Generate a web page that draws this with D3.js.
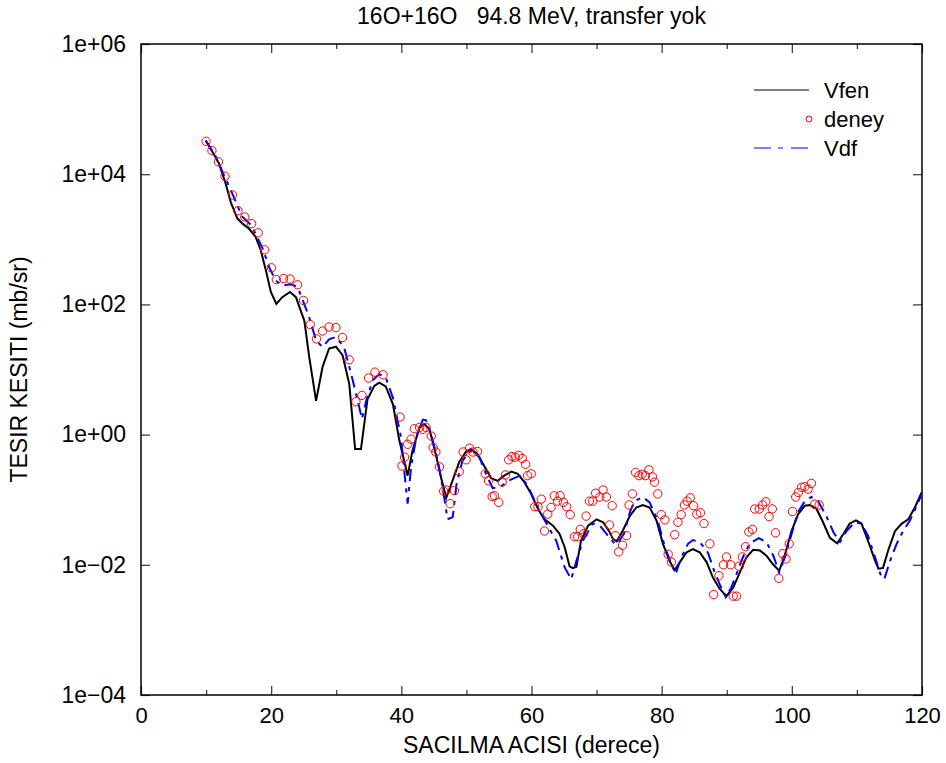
<!DOCTYPE html>
<html>
<head>
<meta charset="utf-8">
<script src="https://cdn.jsdelivr.net/npm/d3@7"></script>
<style>
  body { margin: 0; background: #fff; }
  text { font-family: "Liberation Sans", Arial, sans-serif; fill: #000; }
</style>
</head>
<body>
<div id="chart"></div>
<script>
// deney (experiment): angle in degrees, cross section in mb/sr
const expAngle = [10.0, 10.9, 11.9, 12.9, 14.05, 14.9, 15.95, 17.0, 18.0, 19.0, 20.05, 20.8, 21.9, 22.9, 24.05, 24.97,
  26.0, 26.97, 27.9, 28.9, 29.95, 30.97, 32.0, 33.03, 33.95, 34.97, 35.95, 37.2, 39.8, 40.1, 40.5, 40.97,
  41.5, 42.0, 42.8, 43.3, 43.8, 44.6, 44.9, 45.3, 45.85, 46.5, 46.9, 47.5, 48.15, 48.9, 49.5, 49.95,
  50.5, 51.0, 51.7, 52.9, 53.4, 53.95, 54.3, 54.97, 55.5, 56.0, 56.5, 57.0, 57.5, 58.05, 58.6, 59.1,
  59.4, 59.95, 60.5, 61.0, 61.5, 62.0, 62.5, 63.0, 63.5, 64.0, 64.4, 64.9, 65.4, 65.95, 66.6, 67.1,
  67.5, 68.0, 68.4, 68.9, 69.4, 69.85, 70.5, 71.0, 71.5, 72.0, 72.4, 72.9, 73.4, 74.0, 74.6, 75.0,
  75.5, 76.0, 76.5, 77.0, 77.5, 78.05, 78.6, 78.9, 79.4, 79.95, 80.5, 81.0, 81.5, 82.0, 82.5, 83.0,
  83.5, 83.9, 84.4, 84.9, 85.4, 85.95, 86.5, 87.4, 88.0, 88.8, 89.5, 89.95, 90.6, 91.0, 91.5, 91.9,
  92.4, 92.9, 93.4, 93.95, 94.3, 95.0, 95.5, 96.0, 96.5, 97.0, 97.5, 98.0, 98.6, 99.1, 99.6, 100.1,
  100.6, 101.0, 101.5, 102.0, 102.5, 103.0, 103.5, 104.2];
const expSigma = [3.2e4, 2.3e4, 1.55e4, 9.3e3, 4.8e3, 2.75e3, 2.2e3, 1.74e3, 1.26e3, 690, 365, 240, 250, 245, 200, 115,
  49, 29.5, 39, 45, 44, 31, 14.1, 3.2, 4.0, 7.4, 9.1, 8.3, 1.86, 0.33, 0.45, 0.71,
  0.85, 1.23, 1.29, 1.2, 1.29, 0.95, 0.63, 0.54, 0.32, 0.135, 0.141, 0.087, 0.138, 0.27, 0.54, 0.41,
  0.62, 0.54, 0.55, 0.25, 0.195, 0.112, 0.115, 0.091, 0.186, 0.24, 0.41, 0.46, 0.45, 0.48, 0.43, 0.35,
  0.234, 0.25, 0.078, 0.078, 0.102, 0.033, 0.06, 0.076, 0.115, 0.095, 0.115, 0.091, 0.078, 0.059, 0.027, 0.027,
  0.035, 0.03, 0.056, 0.095, 0.095, 0.126, 0.11, 0.141, 0.11, 0.041, 0.081, 0.028, 0.0158, 0.02, 0.028, 0.083,
  0.123, 0.263, 0.234, 0.245, 0.234, 0.288, 0.224, 0.186, 0.123, 0.059, 0.049, 0.0145, 0.011, 0.029, 0.045, 0.059,
  0.083, 0.095, 0.107, 0.081, 0.06, 0.063, 0.043, 0.021, 0.0035, 0.0068, 0.01, 0.0132, 0.01, 0.0033, 0.0033, 0.0095,
  0.0132, 0.019, 0.032, 0.035, 0.072, 0.072, 0.083, 0.093, 0.055, 0.072, 0.031, 0.0062, 0.0148, 0.0123, 0.021, 0.066,
  0.11, 0.129, 0.155, 0.158, 0.145, 0.178, 0.085, 0.083];

// Vfen calculation
const fenAngle = [9.95, 11.1, 12.0, 13.0, 13.8, 14.8, 15.6, 16.6, 17.6, 18.4, 19.2, 19.95, 20.8, 21.7, 22.9, 23.8,
  25.1, 25.85, 26.9, 27.9, 28.9, 29.95, 30.97, 32.0, 32.9, 33.8, 34.8, 35.85, 36.6, 37.6, 38.7, 39.7,
  40.97, 41.7, 42.8, 43.5, 44.3, 45.3, 46.1, 46.9, 47.9, 48.9, 49.95, 50.7, 51.7, 52.8, 53.8, 54.8,
  55.8, 56.9, 57.9, 58.9, 59.95, 61.0, 62.0, 63.3, 64.3, 65.1, 65.85, 66.35, 66.9, 67.6, 68.7, 70.0,
  71.0, 72.0, 72.5, 73.1, 74.0, 75.1, 76.1, 77.1, 78.15, 79.2, 80.2, 81.2, 82.0, 82.8, 83.8, 84.8,
  85.85, 86.9, 87.9, 88.9, 89.95, 91.0, 92.0, 93.0, 94.05, 95.1, 96.1, 97.1, 98.05, 98.9, 99.95, 100.97,
  102.0, 102.8, 103.8, 104.8, 105.85, 106.97, 107.9, 108.9, 109.85, 110.7, 111.7, 112.8, 113.3, 114.0, 114.8, 115.85,
  116.9, 117.9, 118.9, 119.95];
const fenSigma = [3.3e4, 2.1e4, 1.45e4, 7.2e3, 3.7e3, 2.1e3, 1.74e3, 1.45e3, 1.1e3, 680, 330, 155, 102, 129, 155, 129,
  56, 15.5, 3.3, 11, 21, 22.4, 16.6, 6.0, 0.6, 0.6, 3.5, 5.6, 6.3, 5.5, 2.95, 0.81,
  0.234, 0.56, 1.29, 1.45, 1.23, 0.5, 0.22, 0.107, 0.2, 0.38, 0.55, 0.6, 0.5, 0.32, 0.214, 0.195,
  0.234, 0.27, 0.25, 0.186, 0.123, 0.072, 0.05, 0.04, 0.03, 0.0186, 0.0095, 0.0089, 0.0093, 0.0234, 0.04, 0.05,
  0.045, 0.032, 0.025, 0.023, 0.033, 0.056, 0.076, 0.083, 0.076, 0.048, 0.021, 0.0115, 0.0083, 0.011, 0.0155, 0.0174,
  0.0155, 0.011, 0.0063, 0.0043, 0.0033, 0.0045, 0.0076, 0.0129, 0.017, 0.0166, 0.0138, 0.0102, 0.0081, 0.0138, 0.033, 0.06,
  0.081, 0.083, 0.072, 0.045, 0.026, 0.0214, 0.0295, 0.043, 0.048, 0.043, 0.0234, 0.0115, 0.0087, 0.0089, 0.0166, 0.033,
  0.043, 0.05, 0.076, 0.129];

// Vdf calculation
const vdfAngle = [9.95, 11.5, 13.0, 14.05, 14.8, 15.6, 16.9, 17.6, 18.7, 19.7, 20.7, 21.7, 23.0, 24.05, 25.1, 25.85,
  26.9, 27.9, 28.9, 29.95, 31.2, 32.3, 33.3, 33.95, 34.6, 35.6, 36.6, 37.6, 38.7, 39.95, 40.6, 40.97,
  41.5, 42.3, 43.3, 43.8, 44.7, 45.6, 46.35, 47.1, 47.9, 48.5, 49.4, 50.7, 52.0, 53.0, 54.05, 55.3,
  56.4, 58.2, 59.4, 60.5, 61.5, 62.8, 63.8, 65.1, 66.1, 66.9, 67.9, 69.4, 70.5, 71.5, 72.8, 73.2,
  74.2, 75.2, 75.85, 77.1, 78.15, 79.4, 80.5, 81.5, 82.15, 83.0, 84.05, 84.8, 85.85, 87.1, 88.15, 89.0,
  89.85, 90.7, 91.5, 92.5, 93.5, 94.9, 96.1, 97.2, 98.05, 98.9, 99.95, 100.97, 102.0, 103.0, 104.05, 105.3,
  106.4, 107.4, 108.4, 109.7, 110.7, 111.7, 112.8, 113.6, 114.2, 115.1, 116.1, 117.1, 118.15, 119.2, 119.95];
const vdfSigma = [3.3e4, 1.86e4, 8.5e3, 5.0e3, 3.3e3, 2.2e3, 1.66e3, 1.23e3, 720, 370, 234, 195, 204, 186, 100, 63,
  28, 22, 29, 31.6, 22, 8.5, 3.3, 1.74, 3.3, 6.8, 8.5, 7.6, 3.7, 0.91, 0.195, 0.087,
  0.32, 0.91, 1.7, 1.66, 0.91, 0.4, 0.155, 0.05, 0.054, 0.18, 0.4, 0.575, 0.45, 0.25, 0.15, 0.16,
  0.195, 0.234, 0.166, 0.095, 0.06, 0.035, 0.0234, 0.0091, 0.006, 0.0115, 0.0234, 0.043, 0.04, 0.03, 0.021, 0.021,
  0.03, 0.068, 0.095, 0.11, 0.091, 0.048, 0.0186, 0.0102, 0.0072, 0.0129, 0.021, 0.024, 0.0224, 0.0155, 0.0076, 0.0048,
  0.0032, 0.0045, 0.0072, 0.0132, 0.021, 0.0257, 0.0224, 0.0135, 0.0076, 0.0129, 0.0295, 0.065, 0.095, 0.11, 0.095, 0.056,
  0.0316, 0.0224, 0.033, 0.045, 0.043, 0.028, 0.0129, 0.0072, 0.006, 0.0115, 0.021, 0.033, 0.048, 0.081, 0.123];

const xMajorTicks = [0, 20, 40, 60, 80, 100, 120];
const xMinorTicks = [10, 30, 50, 70, 90, 110];
const yTicks = [1e-4, 1e-2, 1e0, 1e2, 1e4, 1e6];

const size = { width: 946, height: 763, margin: { left: 141, right: 24, top: 44, bottom: 68 } };
const { width, height, margin } = size;
const w = width - margin.left - margin.right;
const h = height - margin.top - margin.bottom;

const svg = d3.select('#chart').append('svg')
  .attr('width', width)
  .attr('height', height);

const g = svg.append('g').attr('transform', `translate(${margin.left},${margin.top})`);

const x = d3.scaleLinear().domain([0, 120]).range([0, w]);
const y = d3.scaleLog().domain([1e-4, 1e6]).range([h, 0]);

g.append('clipPath').attr('id', 'clip')
  .append('rect').attr('width', w).attr('height', h);

const fmtExp = (d) => {
  const e = Math.round(Math.log10(d));
  return `1e${e < 0 ? '\u2212' : '+'}${String(Math.abs(e)).padStart(2, '0')}`;
};

const styleAxis = (fontSize) => (sel) => {
  sel.select('.domain').remove();
  sel.selectAll('line').attr('stroke', '#333').attr('stroke-width', 1.2);
  sel.selectAll('text').style('font-size', fontSize).attr('fill', '#000');
};

// bottom axis: labelled major ticks + minor ticks, pointing inward
g.append('g').attr('transform', `translate(0,${h})`)
  .call(d3.axisBottom(x).tickValues(xMajorTicks).tickSize(-9).tickPadding(12).tickFormat(d3.format('d')))
  .call(styleAxis('22px'));
g.append('g').attr('transform', `translate(0,${h})`)
  .call(d3.axisBottom(x).tickValues(xMinorTicks).tickSize(-5).tickFormat(''))
  .call(styleAxis('22px'));
g.append('g')
  .call(d3.axisTop(x).tickValues(xMajorTicks).tickSize(-9).tickFormat(''))
  .call(styleAxis('22px'));
g.append('g')
  .call(d3.axisTop(x).tickValues(xMinorTicks).tickSize(-5).tickFormat(''))
  .call(styleAxis('22px'));

g.append('g')
  .call(d3.axisLeft(y).tickValues(yTicks).tickSize(-9).tickPadding(15).tickFormat(fmtExp))
  .call(styleAxis('23px'));
g.append('g').attr('transform', `translate(${w},0)`)
  .call(d3.axisRight(y).tickValues(yTicks).tickSize(-9).tickFormat(''))
  .call(styleAxis('23px'));

g.append('rect')
  .attr('width', w).attr('height', h)
  .attr('fill', 'none').attr('stroke', '#000').attr('stroke-width', 1.5);

const line = d3.line()
  .x((d) => x(d[0]))
  .y((d) => y(d[1]));

const plot = g.append('g').attr('clip-path', 'url(#clip)');

plot.append('path')
  .datum(d3.zip(fenAngle, fenSigma))
  .attr('d', line)
  .attr('fill', 'none')
  .attr('stroke', '#000')
  .attr('stroke-width', 2);

plot.append('path')
  .datum(d3.zip(vdfAngle, vdfSigma))
  .attr('d', line)
  .attr('fill', 'none')
  .attr('stroke', '#0000ff')
  .attr('stroke-width', 2)
  .attr('stroke-dasharray', '12,6,4,6');

plot.selectAll('circle.exp')
  .data(d3.zip(expAngle, expSigma))
  .enter()
  .append('circle')
  .attr('class', 'exp')
  .attr('cx', (d) => x(d[0]))
  .attr('cy', (d) => y(d[1]))
  .attr('r', 4.2)
  .attr('fill', 'none')
  .attr('stroke', '#ff0000')
  .attr('stroke-width', 1);

// legend
const legend = svg.append('g');
const legendRows = [
  { label: 'Vfen', y: 90 },
  { label: 'deney', y: 119 },
  { label: 'Vdf', y: 148 },
];
legend.append('line').attr('x1', 754).attr('x2', 809).attr('y1', 90).attr('y2', 90)
  .attr('stroke', '#000').attr('stroke-width', 1);
legend.append('circle').attr('cx', 809).attr('cy', 119).attr('r', 3)
  .attr('fill', 'none').attr('stroke', '#ff0000').attr('stroke-width', 1);
legend.append('line').attr('x1', 754).attr('x2', 809).attr('y1', 148).attr('y2', 148)
  .attr('stroke', '#0000ff').attr('stroke-width', 1).attr('stroke-dasharray', '17,7,5,8');
legend.selectAll('text')
  .data(legendRows)
  .enter()
  .append('text')
  .attr('x', 824)
  .attr('y', (d) => d.y)
  .attr('dy', '0.36em')
  .style('font-size', '22px')
  .text((d) => d.label);

// titles
svg.append('text')
  .attr('x', margin.left + w / 2)
  .attr('y', 24)
  .attr('text-anchor', 'middle')
  .style('font-size', '23px')
  .style('white-space', 'pre')
  .text('16O+16O   94.8 MeV, transfer yok');

svg.append('text')
  .attr('x', margin.left + w / 2)
  .attr('y', 753)
  .attr('text-anchor', 'middle')
  .style('font-size', '23px')
  .text('SACILMA ACISI (derece)');

svg.append('text')
  .attr('transform', `translate(27,${margin.top + h / 2}) rotate(-90)`)
  .attr('text-anchor', 'middle')
  .style('font-size', '23px')
  .text('TESIR KESITI (mb/sr)');
</script>
</body>
</html>
